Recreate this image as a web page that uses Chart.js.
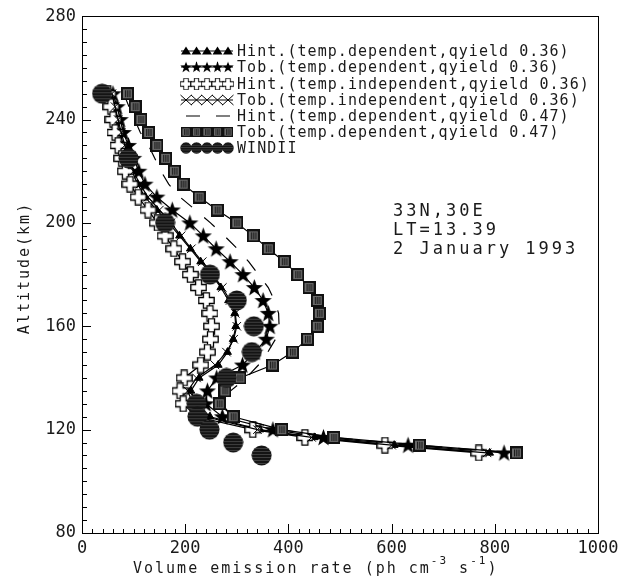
<!DOCTYPE html>
<html>
<head>
<meta charset="utf-8">
<script src="https://cdn.jsdelivr.net/npm/chart.js@4.4.1/dist/chart.umd.min.js"></script>
<style>
  html, body { margin: 0; padding: 0; background: #fff; }
  #wrap { width: 640px; height: 579px; }
</style>
</head>
<body>
<div id="wrap"><canvas id="c" width="640" height="579"></canvas></div>
<script>
// Model altitude grid (km) shared by the six model profiles
const altitudes = [250,245,240,235,230,225,220,215,210,205,200,195,190,185,180,175,170,165,160,155,150,145,140,135,130,125,120,117,114,111];

// Volume emission rates (ph cm^-3 s^-1) for each model run
const hintDep036   = [57,63,68,74,80,88,97,108,122,145,168,189,210,230,251,269,284,296,298,293,282,264,227,211,222,248,345,450,605,790];
const tobDep036    = [60,68,74,80,90,100,110,122,145,175,209,235,260,287,312,334,351,361,364,357,335,311,261,243,240,272,370,468,632,818];
const hintIndep036 = [50,56,60,64,70,77,84,93,109,128,146,161,178,195,210,226,241,248,251,249,243,230,198,190,196,222,331,432,587,769];
const tobIndep036  = [58,64,70,76,83,91,100,112,128,150,172,192,212,233,253,272,287,297,300,294,280,258,222,205,215,240,340,445,600,785];
const hintDep047   = [81,91,102,113,129,141,153,168,190,220,249,276,301,323,342,361,373,381,382,375,360,342,318,288,270,292,385,485,650,835];
const tobDep047    = [88,103,114,129,145,162,179,196,227,262,300,332,361,392,418,440,456,460,456,437,408,369,306,277,266,293,387,488,654,842];

// WINDII observations
const windiiAltitudes = [250,225,200,180,170,160,150,140,130,125,120,115,110];
const windiiRates     = [39,90,161,248,300,333,329,280,222,224,247,293,348];

// Axis ranges and labelled ticks
const rateTicks = [0,200,400,600,800,1000];
const altTicks  = [80,120,160,200,240,280];

const seriesNames = [
  'Hint.(temp.dependent,qyield 0.36)',
  'Tob.(temp.dependent,qyield 0.36)',
  'Hint.(temp.independent,qyield 0.36)',
  'Tob.(temp.independent,qyield 0.36)',
  'Hint.(temp.dependent,qyield 0.47)',
  'Tob.(temp.dependent,qyield 0.47)',
  'WINDII'
];
const siteLines = ['33N,30E', 'LT=13.39', '2 January 1993'];

const MONO = '"DejaVu Sans Mono", "Liberation Mono", monospace';
const INK = '#1a1a1a';

// ---------- marker sprites ----------
function sprite(w, h, draw) {
  const c = document.createElement('canvas');
  c.width = w; c.height = h;
  draw(c.getContext('2d'), w, h);
  return c;
}
const starImg = sprite(19, 19, (g, w, h) => {
  const cx = w / 2, cy = h / 2 + 0.6, R = 9, r = 3.7;
  g.beginPath();
  for (let i = 0; i < 10; i++) {
    const a = -Math.PI / 2 + i * Math.PI / 5;
    const rad = i % 2 ? r : R;
    g.lineTo(cx + rad * Math.cos(a), cy + rad * Math.sin(a));
  }
  g.closePath();
  g.fillStyle = '#000';
  g.fill();
});
const plusImg = sprite(17, 17, (g, w, h) => {
  const a = 5.5, b = 11.5, e = 0.8, f = 16.2;
  g.beginPath();
  g.moveTo(a, e); g.lineTo(b, e); g.lineTo(b, a); g.lineTo(f, a); g.lineTo(f, b);
  g.lineTo(b, b); g.lineTo(b, f); g.lineTo(a, f); g.lineTo(a, b); g.lineTo(e, b);
  g.lineTo(e, a); g.lineTo(a, a); g.closePath();
  g.fillStyle = '#fff'; g.fill();
  g.lineWidth = 1.3; g.strokeStyle = '#000'; g.stroke();
});
const squareImg = sprite(13, 13, (g, w, h) => {
  g.fillStyle = '#111'; g.fillRect(0, 0, w, h);
  g.fillStyle = '#6a6a6a'; g.fillRect(2, 2, w - 4, h - 4);
  g.fillStyle = '#1e1e1e';
  g.fillRect(4, 3, 1.2, h - 6); g.fillRect(6.2, 3, 1.2, h - 6); g.fillRect(8.4, 3, 1.2, h - 6);
});
const circleImg = sprite(21, 21, (g, w, h) => {
  g.beginPath(); g.arc(w / 2, h / 2, 10, 0, Math.PI * 2);
  g.fillStyle = '#141414'; g.fill();
  g.save(); g.clip();
  g.strokeStyle = '#4a4a4a'; g.lineWidth = 0.8;
  for (let y = 3; y < h; y += 3) { g.beginPath(); g.moveTo(0, y + 0.5); g.lineTo(w, y + 0.5); g.stroke(); }
  g.restore();
});

function pairs(vals, alts) { return vals.map((v, i) => ({ x: v, y: alts[i] })); }

const lineBase = { showLine: true, borderColor: '#000', borderWidth: 1.2, tension: 0, fill: false };

const datasets = [
  Object.assign({}, lineBase, { label: seriesNames[0], data: pairs(hintDep036, altitudes),
    pointStyle: 'triangle', pointRadius: 4.5, pointBackgroundColor: '#000', pointBorderColor: '#000', pointBorderWidth: 1 }),
  Object.assign({}, lineBase, { label: seriesNames[1], data: pairs(tobDep036, altitudes),
    pointStyle: starImg, pointRadius: 9 }),
  Object.assign({}, lineBase, { label: seriesNames[2], data: pairs(hintIndep036, altitudes),
    pointStyle: plusImg, pointRadius: 8 }),
  Object.assign({}, lineBase, { label: seriesNames[3], data: pairs(tobIndep036, altitudes),
    pointStyle: 'crossRot', pointRadius: 6, pointBorderColor: '#000', pointBorderWidth: 1 }),
  Object.assign({}, lineBase, { label: seriesNames[4], data: pairs(hintDep047, altitudes),
    borderDash: [14, 16], pointRadius: 0 }),
  Object.assign({}, lineBase, { label: seriesNames[5], data: pairs(tobDep047, altitudes),
    pointStyle: squareImg, pointRadius: 6 }),
  { label: seriesNames[6], data: pairs(windiiRates, windiiAltitudes), showLine: false,
    pointStyle: circleImg, pointRadius: 10 }
];

// ---------- frame, inward ticks, titles, legend ----------
const decor = {
  id: 'decor',
  beforeDraw(chart) {
    const ctx = chart.ctx;
    ctx.save();
    ctx.fillStyle = '#fff';
    ctx.fillRect(0, 0, chart.width, chart.height);
    ctx.restore();
  },
  afterDraw(chart) {
    const { ctx, chartArea: a, scales: { x, y } } = chart;
    ctx.save();
    ctx.strokeStyle = '#000';
    ctx.lineWidth = 1;
    ctx.strokeRect(Math.round(a.left) + 0.5, Math.round(a.top) + 0.5,
                   Math.round(a.right - a.left), Math.round(a.bottom - a.top));
    ctx.beginPath();
    for (let v = y.min; v <= y.max; v += 5) {
      const py = Math.round(y.getPixelForValue(v)) + 0.5;
      const len = (v % 40 === 0) ? 9 : 5;
      ctx.moveTo(a.left, py); ctx.lineTo(a.left + len, py);
    }
    for (let v = x.min; v <= x.max; v += 20) {
      const px = Math.round(x.getPixelForValue(v)) + 0.5;
      const len = (v % 200 === 0) ? 9 : 4;
      ctx.moveTo(px, a.bottom); ctx.lineTo(px, a.bottom - len);
    }
    ctx.stroke();

    ctx.fillStyle = INK;
    ctx.textBaseline = 'middle';

    // y title
    ctx.save();
    ctx.translate(25, 268);
    ctx.rotate(-Math.PI / 2);
    ctx.font = '15px ' + MONO;
    ctx.letterSpacing = '2px';
    ctx.textAlign = 'center';
    ctx.fillText('Altitude(km)', 0, 0);
    ctx.restore();

    // x title with superscripts
    ctx.save();
    ctx.textAlign = 'left';
    ctx.letterSpacing = '2px';
    let cx = 133;
    const base = 569;
    const part = (t, size, dy) => {
      ctx.font = size + 'px ' + MONO;
      ctx.fillText(t, cx, base + dy);
      cx += ctx.measureText(t).width;
    };
    part('Volume emission rate (ph cm', 15, 0);
    part('-3', 11, -8);
    part(' s', 15, 0);
    part('-1', 11, -8);
    part(')', 15, 0);
    ctx.restore();

    // site / time annotation
    ctx.save();
    ctx.font = '17px ' + MONO;
    ctx.letterSpacing = '3px';
    ctx.textAlign = 'left';
    siteLines.forEach((t, i) => ctx.fillText(t, 393, 212 + i * 19));
    ctx.restore();

    // legend
    ctx.save();
    const rows = [51, 67, 84, 100, 116, 132, 148];
    const xs = [186, 196.5, 207, 217.5, 228];
    datasets.forEach((ds, i) => {
      const ry = rows[i];
      if (ds.showLine) {
        ctx.strokeStyle = '#000';
        ctx.lineWidth = 1.2;
        ctx.setLineDash(ds.borderDash || []);
        ctx.beginPath();
        if (ds.borderDash) { ctx.moveTo(186, ry); ctx.lineTo(232, ry); }
        else { ctx.moveTo(181, ry); ctx.lineTo(233, ry); }
        ctx.stroke();
        ctx.setLineDash([]);
      }
      xs.forEach(mx => {
        const st = ds.pointStyle;
        if (!ds.pointRadius) return;
        if (st === 'triangle') {
          ctx.beginPath();
          ctx.moveTo(mx, ry - 4.5); ctx.lineTo(mx + 5, ry + 3.5); ctx.lineTo(mx - 5, ry + 3.5);
          ctx.closePath(); ctx.fillStyle = '#000'; ctx.fill();
        } else if (st === 'crossRot') {
          ctx.beginPath();
          ctx.moveTo(mx - 5.5, ry - 5); ctx.lineTo(mx + 5.5, ry + 5);
          ctx.moveTo(mx - 5.5, ry + 5); ctx.lineTo(mx + 5.5, ry - 5);
          ctx.strokeStyle = '#000'; ctx.lineWidth = 1; ctx.stroke();
        } else if (st instanceof HTMLCanvasElement) {
          const s = st === circleImg ? 12 : st === squareImg ? 10.5 : 12.5;
          ctx.drawImage(st, mx - s / 2, ry - s / 2, s, s);
        }
      });
      ctx.fillStyle = INK;
      ctx.font = '15px ' + MONO;
      ctx.letterSpacing = '1.05px';
      ctx.textAlign = 'left';
      ctx.textBaseline = 'middle';
      ctx.fillText(ds.label, 237, ry + 1);
    });
    ctx.restore();
    ctx.restore();
  }
};

new Chart(document.getElementById('c'), {
  type: 'scatter',
  data: { datasets: datasets.slice().reverse() },
  options: {
    responsive: false,
    animation: false,
    devicePixelRatio: 1,
    layout: { padding: { top: 12, right: 42, left: 0, bottom: 0 } },
    plugins: { legend: { display: false }, tooltip: { enabled: false } },
    scales: {
      x: {
        type: 'linear', min: rateTicks[0], max: rateTicks[rateTicks.length - 1],
        afterFit: s => { s.height = 46; },
        afterBuildTicks: s => { s.ticks = rateTicks.map(v => ({ value: v })); },
        grid: { display: false, drawTicks: false },
        border: { display: false },
        ticks: { padding: 5, color: INK, font: { family: MONO, size: 17 }, maxRotation: 0,
                 callback: v => String(v) }
      },
      y: {
        type: 'linear', min: altTicks[0], max: altTicks[altTicks.length - 1],
        afterFit: s => { s.width = 82; },
        afterBuildTicks: s => { s.ticks = altTicks.map(v => ({ value: v })); },
        grid: { display: false, drawTicks: false },
        border: { display: false },
        ticks: { padding: 6, color: INK, font: { family: MONO, size: 17 },
                 callback: v => String(v) }
      }
    }
  },
  plugins: [decor]
});
</script>
</body>
</html>
